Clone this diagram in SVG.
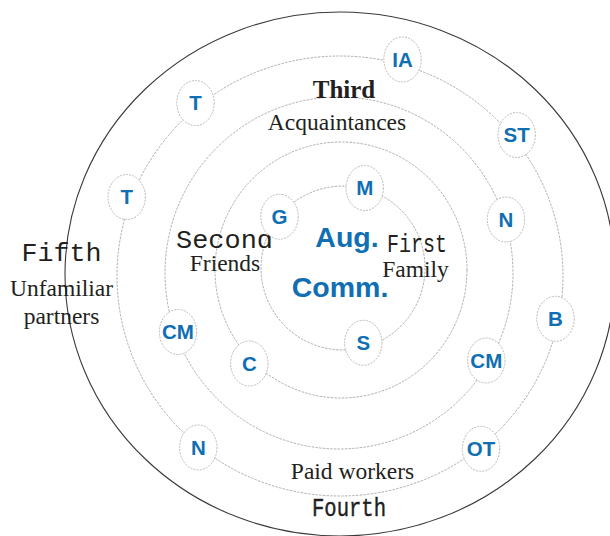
<svg xmlns="http://www.w3.org/2000/svg" width="610" height="536" viewBox="0 0 610 536">
  <style>
    .ring { fill: none; stroke: #9a9a9a; stroke-width: 0.8; stroke-dasharray: 2.5 1.2; }
    .outer { fill: none; stroke: #3a3a3a; stroke-width: 1.1; }
    .node ellipse { fill: #ffffff; stroke: #a8a8a8; stroke-width: 0.8; stroke-dasharray: 2 1.2; }
    .node text { font-family: "Liberation Sans", Arial, sans-serif; font-weight: bold; font-size: 20.5px; fill: #0f6fb2; text-anchor: middle; }
    .center { font-family: "Liberation Sans", Arial, sans-serif; font-weight: bold; font-size: 28.5px; fill: #0f6fb2; text-anchor: middle; }
    .lbl { font-family: "Liberation Serif", "Times New Roman", serif; font-size: 23.5px; fill: #231f20; text-anchor: middle; }
    .lblb { font-family: "Liberation Serif", "Times New Roman", serif; font-size: 25px; font-weight: bold; fill: #231f20; text-anchor: middle; }
    .mono { font-family: "Liberation Mono", "Courier New", monospace; font-size: 25px; fill: #231f20; }
  </style>

  <!-- orbits -->
  <g id="connectors">
    <ellipse class="outer" cx="340" cy="274" rx="275" ry="262"/>
    <ellipse class="ring" cx="340" cy="276" rx="223" ry="220"/>
    <ellipse class="ring" cx="339" cy="273" rx="174" ry="176"/>
    <ellipse class="ring" cx="341" cy="270" rx="126" ry="128"/>
    <circle class="ring" cx="343" cy="268" r="82"/>
  </g>

  <!-- ring labels -->
  <g id="labels">
    <text class="center" x="347" y="247">Aug.</text>
    <text class="center" x="340" y="297">Comm.</text>

    <text class="mono" x="387" y="252" textLength="60" lengthAdjust="spacingAndGlyphs">First</text>
    <text class="lbl" x="415.5" y="277">Family</text>

    <text class="mono" x="176" y="248" textLength="97" lengthAdjust="spacingAndGlyphs">Second</text>
    <text class="lbl" x="225" y="271">Friends</text>

    <text class="lblb" x="344" y="98">Third</text>
    <text class="lbl" x="337" y="130">Acquaintances</text>

    <text class="lbl" x="352.5" y="479">Paid workers</text>
    <text class="mono" x="312" y="516" textLength="74" lengthAdjust="spacingAndGlyphs" stroke="#231f20" stroke-width="0.4">Fourth</text>

    <text class="mono" x="21.5" y="261" textLength="80" lengthAdjust="spacingAndGlyphs">Fifth</text>
    <text class="lbl" x="61.5" y="296">Unfamiliar</text>
    <text class="lbl" x="61.5" y="324">partners</text>
  </g>

  <!-- first ring -->
  <g id="node-m" class="node"><ellipse cx="364.7" cy="188" rx="18.7" ry="22.5"/><text x="364.7" y="195.4">M</text></g>
  <g id="node-g" class="node"><ellipse cx="279.5" cy="216.7" rx="18.7" ry="22.5"/><text x="279.5" y="224.1">G</text></g>
  <g id="node-s" class="node"><ellipse cx="363.3" cy="342.8" rx="18.7" ry="22.5"/><text x="363.3" y="350.2">S</text></g>

  <!-- second ring -->
  <g id="node-c" class="node"><ellipse cx="249.3" cy="363.5" rx="18.7" ry="22.5"/><text x="249.3" y="370.9">C</text></g>

  <!-- third ring -->
  <g id="node-n-right" class="node"><ellipse cx="506" cy="219.5" rx="18.7" ry="22.5"/><text x="506" y="226.9">N</text></g>
  <g id="node-cm-right" class="node"><ellipse cx="486.3" cy="360.5" rx="18.7" ry="22.5"/><text x="486.3" y="367.9">CM</text></g>
  <g id="node-cm-left" class="node"><ellipse cx="178" cy="332" rx="18.7" ry="22.5"/><text x="178" y="339.4">CM</text></g>

  <!-- fourth ring -->
  <g id="node-ia" class="node"><ellipse cx="402.5" cy="59.5" rx="18.7" ry="22.5"/><text x="402.5" y="66.9">IA</text></g>
  <g id="node-st" class="node"><ellipse cx="516.7" cy="135" rx="18.7" ry="22.5"/><text x="516.7" y="142.4">ST</text></g>
  <g id="node-b" class="node"><ellipse cx="555.5" cy="318.8" rx="18.7" ry="22.5"/><text x="555.5" y="326.2">B</text></g>
  <g id="node-ot" class="node"><ellipse cx="481" cy="448.8" rx="18.7" ry="22.5"/><text x="481" y="456.2">OT</text></g>
  <g id="node-n-left" class="node"><ellipse cx="198.3" cy="447.5" rx="18.7" ry="22.5"/><text x="198.3" y="454.9">N</text></g>
  <g id="node-t-lower" class="node"><ellipse cx="126.7" cy="197" rx="18.7" ry="22.5"/><text x="126.7" y="204.4">T</text></g>
  <g id="node-t-upper" class="node"><ellipse cx="195.5" cy="103" rx="18.7" ry="22.5"/><text x="195.5" y="110.4">T</text></g>
</svg>
